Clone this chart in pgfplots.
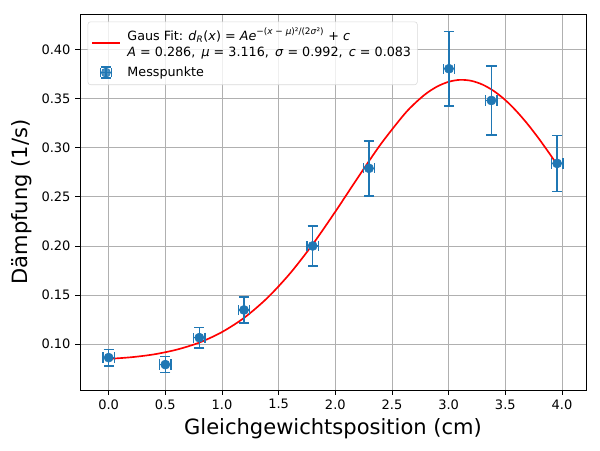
\documentclass[border=0pt]{standalone}
\usepackage{pgfplots}
\pgfplotsset{compat=1.18}
\usepackage{fontspec}
\setmainfont{DejaVu Sans}
\definecolor{mplblue}{HTML}{1F77B4}
\definecolor{mplgrid}{HTML}{B0B0B0}
\begin{document}
\begin{tikzpicture}
\begin{axis}[
  scale only axis,
  width=365.7pt, height=271.7pt,
  xmin=-0.253, xmax=4.212,
  ymin=0.0535, ymax=0.436,
  xtick={0,0.5,...,4.0},
  ytick={0.10,0.15,...,0.41},
  xticklabel style={/pgf/number format/.cd,fixed,fixed zerofill,precision=1},
  yticklabel style={/pgf/number format/.cd,fixed,fixed zerofill,precision=2},
  /pgf/number format/assume math mode=true,
  ticklabel style={font=\fontsize{9.4pt}{11pt}\selectfont},
  tick align=outside,
  xtick pos=left, ytick pos=left,
  major tick length=3.3pt,
  tick style={black, line width=0.6pt},
  axis line style={line width=0.6pt},
  grid=major,
  grid style={mplgrid, line width=0.6pt},
  xlabel={Gleichgewichtsposition (cm)},
  ylabel={Dämpfung (1/s)},
  label style={font=\fontsize{15.2pt}{17pt}\selectfont},
  legend cell align=left,
  legend style={font=\fontsize{9.2pt}{11.8pt}\selectfont, draw=black!15, rounded corners=2pt,
    fill=white, fill opacity=0.8, text opacity=1, cells={align=left},
    at={(0.015,0.98)}, anchor=north west, inner sep=2.5pt, row sep=2pt,
    /tikz/every odd column/.append style={column sep=3pt}},
]
\addplot[red, line width=1.2pt, smooth,
  legend image code/.code={\draw[red, line width=1.2pt] (0cm,0cm) -- (0.7cm,0cm);}] coordinates {
(0.0,0.0851) (0.2,0.0868) (0.4,0.0897) (0.6,0.0945) (0.8,0.1017) (1.0,0.1124)
(1.2,0.1273) (1.4,0.1471) (1.6,0.1720) (1.8,0.2016) (2.0,0.2349) (2.2,0.2697)
(2.4,0.3034) (2.6,0.3328) (2.7,0.3449) (2.8,0.3549) (2.9,0.3623) (3.0,0.3670)
(3.1,0.3690) (3.2,0.3680) (3.3,0.3641) (3.4,0.3575) (3.5,0.3484) (3.6,0.3369)
(3.7,0.3235) (3.8,0.3085) (3.9,0.2923) (3.96,0.2822)
};
\addlegendentry{Gaus Fit: \textit{d}\textsubscript{\textit{R}}(\textit{x}) = \textit{Ae}\textsuperscript{−(\textit{x} − \textit{μ})²/(2\textit{σ}²)} + \textit{c}\\\textit{A} = 0.286,\, \textit{μ} = 3.116,\, \textit{σ} = 0.992,\, \textit{c} = 0.083}
\addplot[only marks, mark=*, mark size=3.3pt, color=mplblue,
  mark options={fill=mplblue, draw=mplblue},
  legend image code/.code={
    \draw[mplblue, line width=1.1pt] (0.35cm,-4pt) -- (0.35cm,4pt) (0.35cm-4pt,0pt) -- (0.35cm+4pt,0pt);
    \draw[mplblue, line width=1.1pt] (0.35cm-3.5pt,-4pt) -- (0.35cm+3.5pt,-4pt) (0.35cm-3.5pt,4pt) -- (0.35cm+3.5pt,4pt)
      (0.35cm-4pt,-3.5pt) -- (0.35cm-4pt,3.5pt) (0.35cm+4pt,-3.5pt) -- (0.35cm+4pt,3.5pt);
    \fill[mplblue] (0.35cm,0pt) circle (3.3pt);},
  error bars/.cd, x dir=both, x explicit, y dir=both, y explicit,
  error bar style={line width=1.1pt, mplblue},
  error mark options={rotate=90, mark size=3.7pt, line width=1.1pt, mplblue}]
coordinates {
(0.0,0.0864) +- (0.05,0.0083)
(0.5,0.0793) +- (0.05,0.0080)
(0.8,0.1067) +- (0.05,0.0105)
(1.194,0.1349) +- (0.05,0.0132)
(1.8,0.2000) +- (0.05,0.0203)
(2.297,0.2790) +- (0.05,0.0280)
(3.003,0.3803) +- (0.05,0.0381)
(3.377,0.3480) +- (0.05,0.0349)
(3.957,0.2840) +- (0.05,0.0285)
};
\addlegendentry{Messpunkte}
\end{axis}
\pgfresetboundingbox
\path ([shift={(-57.8pt,-43.4pt)}]current axis.south west) rectangle ([shift={(10.1pt,10.1pt)}]current axis.north east);
\end{tikzpicture}
\end{document}
